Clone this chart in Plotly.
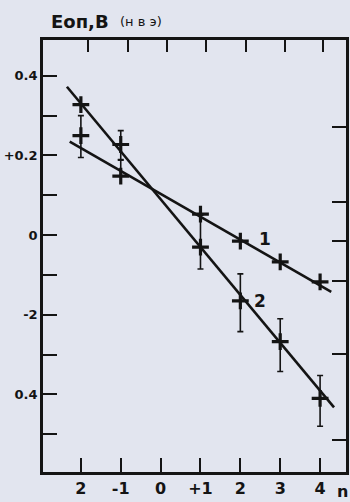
import plotly.graph_objects as go

# ---- data ----
n_values = [-2, -1, 1, 2, 3, 4]

s1_y = [0.25, 0.148, 0.0525, -0.015, -0.0675, -0.1175]
s1_err_plus = [0.05, 0.04, 0.0, 0.0, 0.0, 0.0]
s1_err_minus = [0.055, 0.0, 0.0, 0.0, 0.0, 0.0]

s2_y = [0.3275, 0.2275, -0.03, -0.165, -0.2675, -0.41]
s2_err_plus = [0.0, 0.035, 0.08, 0.0675, 0.0575, 0.0575]
s2_err_minus = [0.0, 0.0375, 0.055, 0.0775, 0.075, 0.07]

line1_x = [-2.28, 4.28]
line1_y = [0.235, -0.1425]
line2_x = [-2.35, 4.35]
line2_y = [0.3725, -0.4325]

x_tickvals = [-2, -1, 0, 1, 2, 3, 4]
x_ticktext = ["2", "-1", "0", "+1", "2", "3", "4"]
y_tickvals = [0.4, 0.2, 0.0, -0.2, -0.4]
y_ticktext = ["0.4", "+0.2", "0", "-2", "0.4"]
y_minor = [0.4, 0.3, 0.2, 0.1, 0.0, -0.1, -0.2, -0.3, -0.4, -0.5]
right_ticks = [0.2725, 0.0825, -0.015, -0.115, -0.2975, -0.515]
top_ticks = [-1.83, -0.83, 0.15, 1.15, 2.15, 3.12, 4.07]

INK = "#141414"
BG = "#e2e5ef"
FONT = "DejaVu Sans"

fig = go.Figure()

fig.add_trace(go.Scatter(x=line1_x, y=line1_y, mode="lines",
                         line=dict(color=INK, width=2.6), showlegend=False,
                         hoverinfo="skip"))
fig.add_trace(go.Scatter(x=line2_x, y=line2_y, mode="lines",
                         line=dict(color=INK, width=2.6), showlegend=False,
                         hoverinfo="skip"))

fig.add_trace(go.Scatter(
    x=n_values, y=s1_y, mode="markers", showlegend=False,
    marker=dict(symbol="cross-thin", size=12, color=INK,
                line=dict(color=INK, width=3.2)),
    error_y=dict(type="data", symmetric=False, array=s1_err_plus,
                 arrayminus=s1_err_minus, color=INK, thickness=1.6, width=3)))

fig.add_trace(go.Scatter(
    x=n_values, y=s2_y, mode="markers", showlegend=False,
    marker=dict(symbol="cross-thin", size=12, color=INK,
                line=dict(color=INK, width=3.2)),
    error_y=dict(type="data", symmetric=False, array=s2_err_plus,
                 arrayminus=s2_err_minus, color=INK, thickness=1.6, width=3)))

# invisible trace to activate secondary axes
fig.add_trace(go.Scatter(x=[None], y=[None], xaxis="x2", yaxis="y2",
                         showlegend=False))

X_RANGE = [-2.95, 4.65]
Y_RANGE = [-0.595, 0.49]

fig.update_layout(
    width=350, height=502,
    margin=dict(l=42, r=4, t=40, b=28),
    paper_bgcolor=BG, plot_bgcolor=BG,
    font=dict(family=FONT, color=INK),
    xaxis=dict(range=X_RANGE, showgrid=False, zeroline=False,
               showline=True, linecolor=INK, linewidth=2.6,
               ticks="inside", ticklen=14, tickwidth=2.4, tickcolor=INK,
               tickvals=x_tickvals, ticktext=x_ticktext,
               tickfont=dict(family=FONT, size=16, color=INK, weight="bold")),
    xaxis2=dict(range=X_RANGE, overlaying="x", side="top", showgrid=False,
                zeroline=False, showline=True, linecolor=INK, linewidth=2.6,
                ticks="inside", ticklen=12, tickwidth=2.4, tickcolor=INK,
                tickvals=top_ticks, showticklabels=False),
    yaxis=dict(range=Y_RANGE, showgrid=False, zeroline=False,
               showline=True, linecolor=INK, linewidth=2.6,
               ticks="inside", ticklen=14, tickwidth=2.4, tickcolor=INK,
               tickvals=y_tickvals, ticktext=y_ticktext,
               minor=dict(tickvals=y_minor, ticks="inside", ticklen=14,
                          tickwidth=2.4, tickcolor=INK),
               tickfont=dict(family=FONT, size=13, color=INK, weight="bold")),
    yaxis2=dict(range=Y_RANGE, overlaying="y", side="right", showgrid=False,
                zeroline=False, showline=True, linecolor=INK, linewidth=2.6,
                ticks="inside", ticklen=14, tickwidth=2.4, tickcolor=INK,
                tickvals=right_ticks, showticklabels=False),
)

fig.add_annotation(x=48, y=21, xref="paper", yref="paper",
                   xanchor="left", yanchor="middle", showarrow=False,
                   text="Eоп,В", font=dict(family=FONT, size=18, color=INK,
                                          weight="bold"))
fig.add_annotation(x=117, y=21, xref="paper", yref="paper",
                   xanchor="left", yanchor="middle", showarrow=False,
                   text="(н в э)", font=dict(family=FONT, size=13, color=INK))
fig.add_annotation(x=2.62, y=-0.01, text="<b>1</b>", showarrow=False,
                   font=dict(family=FONT, size=17, color=INK))
fig.add_annotation(x=2.5, y=-0.165, text="<b>2</b>", showarrow=False,
                   font=dict(family=FONT, size=17, color=INK))
fig.add_annotation(x=1.0, y=0.0, xref="paper", yref="paper",
                   xanchor="center", yanchor="top", yshift=-8, xshift=-4,
                   showarrow=False, text="<b>n</b>",
                   font=dict(family=FONT, size=16, color=INK))

# convert pixel positions of the two title pieces into paper coordinates
PLOT_W = 350 - 42 - 4
PLOT_H = 502 - 40 - 28
for ann in fig.layout.annotations[:2]:
    ann.x = (ann.x - 42) / PLOT_W
    ann.y = 1 + (40 - ann.y) / PLOT_H

fig.write_html(
    "out.html",
    config={"displayModeBar": False},
    post_script=("document.body.style.margin='0';"
                 "document.body.style.padding='0';"
                 "document.body.style.background='%s';" % BG),
)
